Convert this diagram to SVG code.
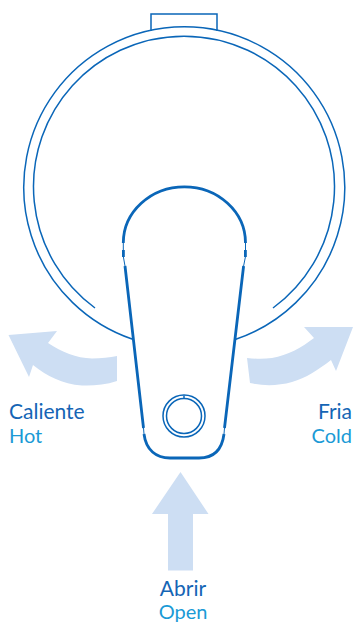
<svg xmlns="http://www.w3.org/2000/svg" width="355" height="623" viewBox="0 0 355 623">
<style>
.l{fill:none;stroke:#0a66b8;stroke-width:1.5}
.h{fill:none;stroke:#0a66b8;stroke-width:2.8}
.t{fill:none;stroke:#0a66b8;stroke-width:1}
.a{fill:#cddef3}
text{font-family:Lato,"Noto Sans",sans-serif}
.d{fill:#1565b5;font-size:21px}
.e{fill:#1a9ad6;font-size:20px}
</style>
<rect width="355" height="623" fill="#fff"/>
<g id="body">
<path class="l" d="M151 31V14H217V31"/>
<path class="l" d="M132.700 339.300A160.500 160.500 0 1 1 235.800 339.300"/>
<path class="l" d="M95 308A150.500 150.500 0 1 1 273 308"/>
</g>
<g id="handle">
<path class="h" d="M123.300 243A61 56 0 0 1 245.500 243"/>
<path class="t" d="M123.300 243V250M123.400 257L125 266M245.500 243V250M245.400 257L243.600 266"/>
<path class="h" d="M123.400 250V257M245.400 250V257"/>
<path class="h" d="M125 266L143.500 428M243.600 266L224.500 428"/>
<path class="t" d="M143.500 428L144 434M224.500 428L224 434"/>
<path class="h" d="M144 434C146 450 156 458 170 458H199C213 458 222 450 224 434"/>
</g>
<g id="knob">
<circle class="l" cx="184" cy="416" r="21"/>
<circle class="l" cx="184" cy="416" r="17.500"/>
<path class="l" d="M184 395.500V399"/>
</g>
<g id="arrows">
<path id="arrow-hot" class="a" d="M8.500 335L57 331L48 343C62 352 76 358 92 358.500C101 358.500 110 357.500 117 356V381C105 385 92 386 82 385.500C62 384 47 376 33 365L29 377Z"/>
<path id="arrow-cold" class="a" d="M353 327L336 371L331 360C318 370 306 378 292 382C278 386 263 386 250 383L247 358C257 359 264 359 272 358C288 355 301 348 314 338L304 327Z"/>
<path id="arrow-open" class="a" d="M180.500 472L208.500 514H193V570.500H168V514H152Z"/>
</g>
<g id="labels">
<text class="d" x="9" y="419">Caliente</text>
<text class="e" x="9" y="443">Hot</text>
<text class="d" x="352" y="419" text-anchor="end">Fria</text>
<text class="e" x="352" y="443" text-anchor="end">Cold</text>
<text class="d" x="183" y="595.500" text-anchor="middle">Abrir</text>
<text class="e" x="183" y="619" text-anchor="middle">Open</text>
</g>
</svg>
